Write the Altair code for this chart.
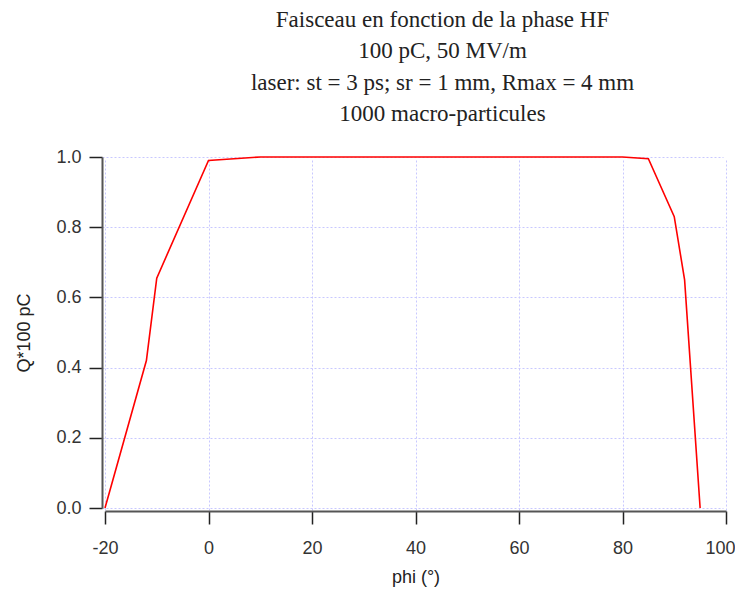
import altair as alt
import pandas as pd

phi = [-20, -12, -10, 0, 10, 20, 30, 40, 50, 60, 70, 80, 85, 90, 92, 95]
charge = [0.0, 0.42, 0.655, 0.99, 1.0, 1.0, 1.0, 1.0, 1.0, 1.0, 1.0, 1.0, 0.995, 0.83, 0.65, 0.0]

x_ticks = [-20, 0, 20, 40, 60, 80, 100]
y_ticks = [0, 0.2, 0.4, 0.6, 0.8, 1.0]

df = pd.DataFrame({"phi": phi, "Q": charge})

title_lines = [
    "Faisceau en fonction de la phase HF",
    "100 pC, 50 MV/m",
    "laser: st = 3 ps; sr = 1 mm, Rmax = 4 mm",
    "1000 macro-particules",
]

chart = alt.Chart(df).mark_line(color="#ff0000", strokeWidth=1.6).encode(
    x=alt.X("phi:Q", title="phi (°)",
            scale=alt.Scale(domain=[-20, 100], nice=False, zero=False),
            axis=alt.Axis(values=x_ticks, labelExpr="'' + datum.value",
                          labelFlush=False,
                          labelOffset=alt.condition("datum.value == 100",
                                                    alt.value(-6), alt.value(0)))),
    y=alt.Y("Q:Q", title="Q*100 pC",
            scale=alt.Scale(domain=[0, 1], nice=False),
            axis=alt.Axis(values=y_ticks, format=".1f", labelFlush=False)),
).properties(
    width=621,
    height=351,
    title=alt.TitleParams(
        text=title_lines,
        font="Liberation Serif",
        fontSize=23,
        fontWeight="normal",
        lineHeight=31.5,
        color="#222222",
        anchor="middle",
        dx=27,
        offset=22,
    ),
    autosize=alt.AutoSizeParams(type="none"),
    padding={"left": 97, "top": 149, "right": 9, "bottom": 80},
).configure_view(
    stroke=None
).configure_axis(
    labelFont="Liberation Sans",
    labelFontSize=18,
    labelColor="#333333",
    titleFont="Liberation Sans",
    titleFontSize=18,
    titleFontWeight="normal",
    titleColor="#222222",
    domainColor="#555555",
    domainWidth=2,
    tickColor="#222222",
    tickWidth=1.5,
    tickSize=13,
    offset=3,
    grid=True,
    gridColor="#c8c8ff",
    gridDash=[2, 2],
    gridWidth=1,
).configure_axisX(
    labelPadding=15,
    titlePadding=11,
).configure_axisY(
    labelPadding=8,
    titlePadding=22,
)

chart.save("out.html", embed_options={"renderer": "svg", "actions": False})
